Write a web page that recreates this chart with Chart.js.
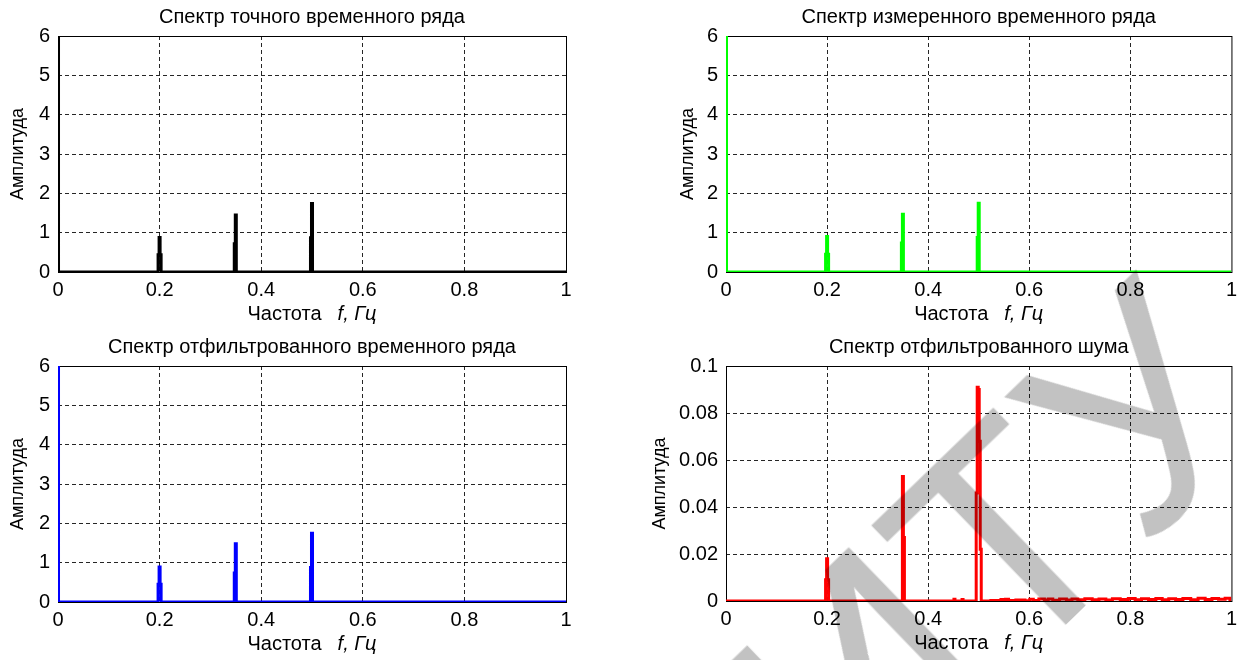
<!DOCTYPE html>
<html lang="ru">
<head>
<meta charset="utf-8">
<title>Спектры временных рядов</title>
<script src="https://cdn.jsdelivr.net/npm/chart.js@4.4.1/dist/chart.umd.min.js"></script>
<style>
    html, body { margin: 0; padding: 0; background: #fff; }
    #page { position: relative; width: 1243px; height: 660px; overflow: hidden; }
    canvas { position: absolute; }
    #wm {
        position: absolute;
        right: -36px;
        top: 165px;
        font: 300px "Liberation Sans", Arial, sans-serif;
        line-height: 300px;
        white-space: nowrap;
        color: rgba(0, 0, 0, 0.24);
        transform-origin: 100% 254px;
        transform: rotate(-44deg);
        pointer-events: none;
    }
</style>
</head>
<body>
<div id="page">
    <canvas id="exactChart" width="621" height="330" style="left:0;top:0"></canvas>
    <canvas id="measuredChart" width="622" height="330" style="left:621px;top:0"></canvas>
    <canvas id="filteredChart" width="621" height="330" style="left:0;top:330px"></canvas>
    <canvas id="noiseChart" width="622" height="330" style="left:621px;top:330px"></canvas>
    <div id="wm">ИРНИТУ</div>
</div>
<script>
const FONT = '"Liberation Sans", Arial, sans-serif';
const FONT_SIZE = 20;
const YLABEL_SIZE = 18;

// Frequency axis (Hz)
const freqTicks = [0, 0.2, 0.4, 0.6, 0.8, 1];
const freqTickLabels = ['0', '0.2', '0.4', '0.6', '0.8', '1'];

// Amplitude axes
const ampTicks = [0, 1, 2, 3, 4, 5, 6];
const ampTickLabels = ['0', '1', '2', '3', '4', '5', '6'];
const noiseAmpTicks = [0, 0.02, 0.04, 0.06, 0.08, 0.1];
const noiseAmpTickLabels = ['0', '0.02', '0.04', '0.06', '0.08', '0.1'];

// Spectrum bins of the three signal spectra (DC line goes off the top)
const signalFreq  = [0, 0.002, 0.196, 0.198, 0.2,  0.202, 0.204, 0.346, 0.348, 0.35, 0.352, 0.496, 0.498, 0.5,  0.502, 1];
const exactAmp    = [8, 0,     0,     0.44,  0.88, 0.44,  0,     0,     0.72,  1.45, 0,     0,     0.87,  1.74, 0,     0];
const measuredAmp = [8, 0,     0,     0.45,  0.9,  0.45,  0,     0,     0.74,  1.47, 0,     0,     0.88,  1.75, 0,     0];
const filteredAmp = [8, 0,     0,     0.45,  0.89, 0.45,  0,     0,     0.74,  1.48, 0,     0,     0.88,  1.75, 0,     0];

// Spectrum of the filtered-out noise
const noiseFreq = [
    0,
    0.196, 0.198, 0.2, 0.202, 0.204,
    0.348, 0.35, 0.352, 0.354,
    0.45, 0.452, 0.454, 0.466, 0.468, 0.47,
    0.494, 0.496, 0.498, 0.5, 0.502, 0.504, 0.506,
    0.542, 0.546, 0.55, 0.556, 0.562, 0.585, 0.598, 0.604, 0.612,
    0.626, 0.634, 0.641, 0.652, 0.668, 0.679, 0.69, 0.702, 0.718,
    0.731, 0.745, 0.758, 0.771, 0.789, 0.803, 0.816, 0.828, 0.844,
    0.857, 0.869, 0.883, 0.896, 0.912, 0.927, 0.941, 0.955, 0.968,
    0.981, 0.994, 1
];
const noiseAmp = [
    0,
    0, 0.009, 0.018, 0.009, 0,
    0, 0.053, 0.027, 0,
    0, 0.0007, 0, 0, 0.0006, 0,
    0, 0.046, 0.091, 0.09, 0.068, 0.022, 0,
    0.0002, 0.0006, 0.0001, 0.0007, 0.0002, 0.0004, 0.0001, 0.0007, 0.0002,
    0.0008, 0.0004, 0.0009, 0.0003, 0.0008, 0.0004, 0.0009, 0.0005, 0.001,
    0.0005, 0.0009, 0.0004, 0.001, 0.0006, 0.0011, 0.0005, 0.001, 0.0006,
    0.0011, 0.0005, 0.001, 0.0006, 0.0011, 0.0005, 0.0012, 0.0006, 0.0011,
    0.0007, 0.0012, 0.0006
];

// Box around the axes, title above and mixed-style x label below
const axesTextPlugin = {
    id: 'axesText',
    beforeDatasetsDraw(chart) {
        const { ctx, chartArea: a } = chart;
        ctx.save();
        ctx.strokeStyle = '#000';
        ctx.lineWidth = 1;
        ctx.strokeRect(a.left + 0.5, a.top + 0.5, a.width, a.height);
        ctx.restore();
    },
    afterDraw(chart, args, opts) {
        const { ctx, chartArea: a } = chart;
        const cx = (a.left + a.right) / 2;
        const plainFont = `${FONT_SIZE}px ${FONT}`;
        const italicFont = `italic ${FONT_SIZE}px ${FONT}`;
        ctx.save();
        ctx.fillStyle = '#000';
        ctx.textBaseline = 'middle';
        ctx.textAlign = 'center';
        ctx.font = plainFont;
        ctx.fillText(opts.title, cx, a.top - 19);

        // "Частота  f, Гц" - units in italics
        const plain = 'Частота';
        const units = 'f, Гц';
        const w1 = ctx.measureText(plain).width;
        ctx.font = italicFont;
        const w2 = ctx.measureText(units).width;
        const gap = 16;
        const x = cx - (w1 + gap + w2) / 2;
        const y = a.bottom + 42;
        ctx.textAlign = 'left';
        ctx.font = plainFont;
        ctx.fillText(plain, x, y);
        ctx.font = italicFont;
        ctx.fillText(units, x + w1 + gap, y);
        ctx.restore();
    }
};

const gridColor = ctx => {
    const s = ctx.scale;
    if (!ctx.tick || ctx.tick.value === s.min || ctx.tick.value === s.max) return 'rgba(0,0,0,0)';
    return 'rgba(0,0,0,0.85)';
};

function drawSpectrum(id, s) {
    const tickFont = { family: FONT, size: FONT_SIZE };
    return new Chart(document.getElementById(id), {
        type: 'line',
        data: {
            datasets: [{
                data: s.freq.map((f, i) => ({ x: f, y: s.amp[i] })),
                borderColor: s.color,
                borderWidth: 3,
                pointRadius: 0,
                stepped: 'middle',
                fill: false
            }]
        },
        options: {
            responsive: false,
            animation: false,
            events: [],
            layout: { padding: { left: s.padLeft, right: s.padRight, top: 36, bottom: 0 } },
            plugins: {
                legend: { display: false },
                tooltip: { enabled: false },
                axesText: { title: s.title }
            },
            scales: {
                x: {
                    type: 'linear',
                    min: 0,
                    max: 1,
                    afterBuildTicks: sc => { sc.ticks = freqTicks.map(v => ({ value: v })); },
                    afterFit: sc => { sc.height = s.xHeight; },
                    ticks: {
                        callback: (v, i) => freqTickLabels[i],
                        font: tickFont,
                        color: '#000',
                        padding: 6,
                        maxRotation: 0,
                        autoSkip: false
                    },
                    grid: { color: gridColor, drawTicks: false, lineWidth: 1 },
                    border: { display: false, dash: [4, 3] }
                },
                y: {
                    type: 'linear',
                    min: 0,
                    max: s.yTicks[s.yTicks.length - 1],
                    afterBuildTicks: sc => { sc.ticks = s.yTicks.map(v => ({ value: v })); },
                    afterFit: sc => { sc.width = s.yWidth; },
                    ticks: {
                        callback: (v, i) => s.yLabels[i],
                        font: tickFont,
                        color: '#000',
                        padding: 8,
                        autoSkip: false
                    },
                    grid: { color: gridColor, drawTicks: false, lineWidth: 1 },
                    border: { display: false, dash: [4, 3] },
                    title: {
                        display: true,
                        text: 'Амплитуда',
                        font: { family: FONT, size: YLABEL_SIZE },
                        color: '#000',
                        padding: { top: 4, bottom: 4 }
                    }
                }
            }
        },
        plugins: [axesTextPlugin]
    });
}

drawSpectrum('exactChart', {
    title: 'Спектр точного временного ряда',
    freq: signalFreq, amp: exactAmp, color: '#000000',
    yTicks: ampTicks, yLabels: ampTickLabels,
    padLeft: 3, yWidth: 55, padRight: 55, xHeight: 58
});
drawSpectrum('measuredChart', {
    title: 'Спектр измеренного временного ряда',
    freq: signalFreq, amp: measuredAmp, color: '#00ff00',
    yTicks: ampTicks, yLabels: ampTickLabels,
    padLeft: 52, yWidth: 53, padRight: 10, xHeight: 58
});
drawSpectrum('filteredChart', {
    title: 'Спектр отфильтрованного временного ряда',
    freq: signalFreq, amp: filteredAmp, color: '#0000ff',
    yTicks: ampTicks, yLabels: ampTickLabels,
    padLeft: 3, yWidth: 55, padRight: 55, xHeight: 58
});
drawSpectrum('noiseChart', {
    title: 'Спектр отфильтрованного шума',
    freq: noiseFreq, amp: noiseAmp, color: '#ff0000',
    yTicks: noiseAmpTicks, yLabels: noiseAmpTickLabels,
    padLeft: 24, yWidth: 81, padRight: 10, xHeight: 59
});
</script>
</body>
</html>
